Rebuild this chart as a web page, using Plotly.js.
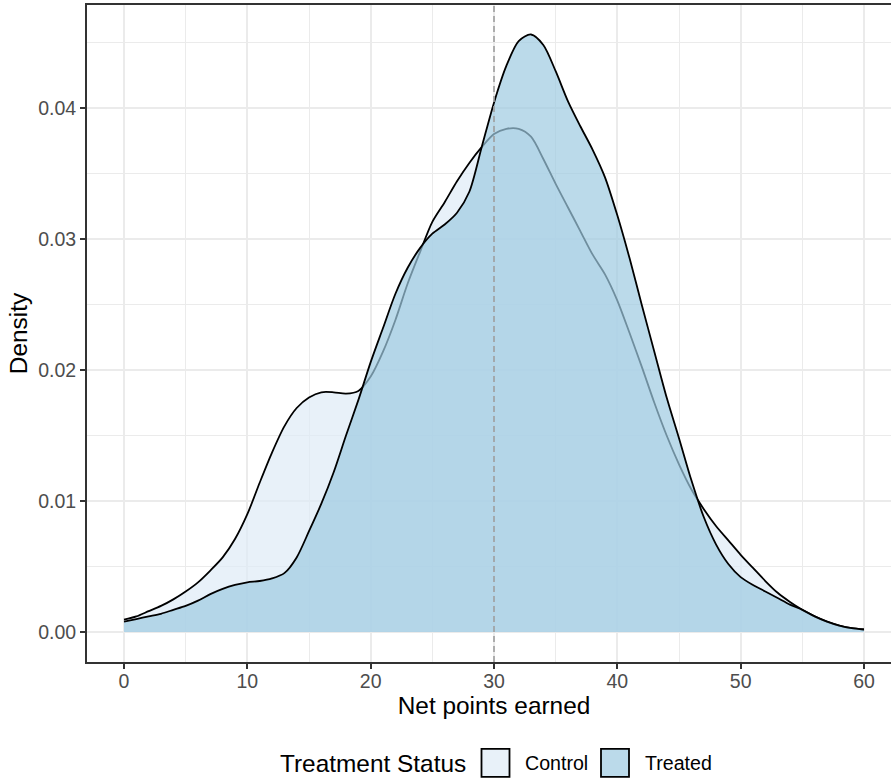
<!DOCTYPE html>
<html>
<head>
<meta charset="utf-8">
<script src="https://cdn.plot.ly/plotly-3.0.1.min.js"></script>
<style>
html, body { margin: 0; padding: 0; overflow: hidden; background: #ffffff; }
#chart { width: 910px; height: 780px; }
</style>
</head>
<body>
<div id="chart"></div>
<script>
// Net points earned (x grid of the density estimates)
const netPoints = [0,1,2,3,4,5,6,7,8,9,10,11,12,13,14,15,16,17,18,19,20,21,22,23,24,25,26,27,28,29,30,31,32,33,34,35,36,37,38,39,40,41,42,43,44,45,46,47,48,49,50,51,52,53,54,55,56,57,58,59,60];

// Density, Control group
const controlDensity = [0.00095,0.0012,0.0016,0.0020,0.0025,0.0031,0.0038,0.0047,0.0057,0.0071,0.0090,0.0114,0.0137,0.0157,0.0171,0.0179,0.0183,0.0183,0.0182,0.0184,0.0195,0.0214,0.0238,0.0266,0.0290,0.0313,0.0328,0.0344,0.0358,0.0370,0.0380,0.0384,0.0384,0.0378,0.0361,0.0342,0.0324,0.0306,0.0288,0.0273,0.0253,0.0228,0.0202,0.0175,0.0150,0.0128,0.0109,0.0094,0.0081,0.0070,0.0059,0.0049,0.0039,0.0030,0.0023,0.0017,0.0012,0.0008,0.0005,0.0003,0.0002];

// Density, Treated group
const treatedDensity = [0.0008,0.0010,0.0012,0.0014,0.0017,0.0020,0.0024,0.0029,0.0033,0.0036,0.0038,0.0039,0.0041,0.0045,0.0057,0.0077,0.0098,0.0122,0.0150,0.0177,0.0206,0.0232,0.0258,0.0278,0.0293,0.0304,0.0311,0.0320,0.0336,0.0370,0.0404,0.0432,0.0451,0.0456,0.0448,0.0428,0.0405,0.0386,0.0368,0.0347,0.0318,0.0285,0.0249,0.0214,0.0179,0.0148,0.0116,0.0088,0.0067,0.0052,0.0042,0.0036,0.0031,0.0026,0.0021,0.0017,0.0012,0.0008,0.0005,0.0003,0.0002];

const groupNames = ["Control", "Treated"];
const legendTitle = "Treatment Status";
const cutoff = [30];

const xTickVals = [0,10,20,30,40,50,60];
const yTickVals = [0,0.01,0.02,0.03,0.04];
const yTickText = ["0.00","0.01","0.02","0.03","0.04"];

const fillColors = ["rgba(222,235,247,0.7)", "rgba(158,202,225,0.7)"];

// plot area in page pixels
const PL = 87, PR = 901, PT = 4.7, PB = 661.7;
const W = 910, H = 780;
function px(x) { return (x - PL) / (PR - PL); }
function py(y) { return (PB - y) / (PB - PT); }

const series = [controlDensity, treatedDensity];
const traces = series.map((d, i) => ({
  type: "scatter",
  mode: "lines",
  x: netPoints,
  y: d,
  name: groupNames[i],
  fill: "tozeroy",
  fillcolor: fillColors[i],
  line: { color: "#000000", width: 1.8, shape: "spline", smoothing: 0.8 },
  showlegend: false,
  hoverinfo: "x+y+name"
}));

const fontFam = "Liberation Sans, Arial, sans-serif";

// custom legend (ggplot style keys)
const keyBoxes = [[481.5, 509.5], [601, 629]];
const keyTop = 748.5, keyBot = 776.5;
const shapes = [
  {
    type: "line", xref: "x", yref: "paper",
    x0: cutoff[0], x1: cutoff[0], y0: 0, y1: 1,
    line: { color: "#9e9e9e", width: 1.6, dash: "6px,4px" },
    layer: "above"
  }
];
keyBoxes.forEach((b, i) => {
  shapes.push({
    type: "rect", xref: "paper", yref: "paper",
    x0: px(b[0]), x1: px(b[1]), y0: py(keyBot), y1: py(keyTop),
    fillcolor: fillColors[i],
    line: { color: "#000000", width: 1.8 },
    layer: "above"
  });
});

const textY = py(763);
const annotations = [
  { text: legendTitle, xref: "paper", yref: "paper", x: px(278), y: textY,
    xanchor: "left", yanchor: "middle", showarrow: false,
    font: { family: fontFam, size: 24.4, color: "#000000" } },
  { text: groupNames[0], xref: "paper", yref: "paper", x: px(523), y: textY,
    xanchor: "left", yanchor: "middle", showarrow: false,
    font: { family: fontFam, size: 19.6, color: "#000000" } },
  { text: groupNames[1], xref: "paper", yref: "paper", x: px(643), y: textY,
    xanchor: "left", yanchor: "middle", showarrow: false,
    font: { family: fontFam, size: 19.6, color: "#000000" } }
];

const layout = {
  width: W, height: H,
  margin: { l: PL, r: W - PR, t: PT, b: H - PB },
  paper_bgcolor: "#ffffff",
  plot_bgcolor: "#ffffff",
  font: { family: fontFam, color: "#000000" },
  showlegend: false,
  xaxis: {
    range: [-3, 63],
    tickvals: xTickVals,
    ticks: "outside", ticklen: 5, tickwidth: 1.8, tickcolor: "#333333",
    ticklabelstandoff: -4,
    tickfont: { family: fontFam, size: 19.5, color: "#4d4d4d" },
    showgrid: true, gridcolor: "#ebebeb", gridwidth: 1.6,
    minor: { dtick: 5, showgrid: true, gridcolor: "#ebebeb", gridwidth: 0.8 },
    zeroline: false,
    showline: true, mirror: true, linecolor: "#333333", linewidth: 1.8,
    title: { text: "Net points earned", font: { family: fontFam, size: 24.4, color: "#000000" }, standoff: 2 },
    automargin: false
  },
  yaxis: {
    range: [-0.00228, 0.04785],
    tickvals: yTickVals, ticktext: yTickText,
    ticks: "outside", ticklen: 5, tickwidth: 1.8, tickcolor: "#333333",
    tickfont: { family: fontFam, size: 19.5, color: "#4d4d4d" },
    showgrid: true, gridcolor: "#ebebeb", gridwidth: 1.6,
    minor: { dtick: 0.005, showgrid: true, gridcolor: "#ebebeb", gridwidth: 0.8 },
    zeroline: false,
    showline: true, mirror: true, linecolor: "#333333", linewidth: 1.8,
    title: { text: "Density", font: { family: fontFam, size: 24.4, color: "#000000" }, standoff: 4 },
    automargin: false
  },
  shapes: shapes,
  annotations: annotations
};

Plotly.newPlot("chart", traces, layout, { displayModeBar: false, staticPlot: false });
</script>
</body>
</html>
